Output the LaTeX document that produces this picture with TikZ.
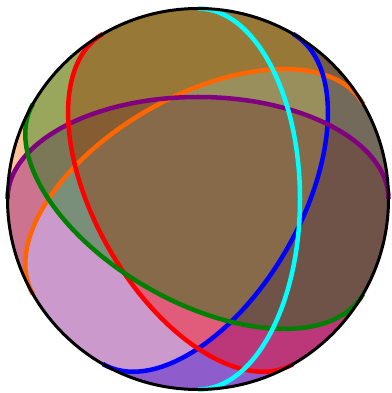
\documentclass[tikz,border=0pt]{standalone}
\usetikzlibrary{calc}
\definecolor{arcorange}{RGB}{255,102,0}
\definecolor{arcpurple}{RGB}{128,0,128}
\definecolor{arcgreen}{RGB}{0,128,0}
\definecolor{arccyan}{RGB}{0,255,255}
\begin{document}
\begin{tikzpicture}[
    bigarc/.style={line width=0.09cm},
    half/.style={fill opacity=0.4}]
                \def\R{3.81}
                \def\b{2.04}
                \useasboundingbox (-3.96,-3.88) rectangle (3.86,3.98);
                \coordinate (O) at (0,0);

                % orange hemisphere, outer side
                \begin{scope}[rotate=30]
                    \fill[half, arcorange] (\R,0) arc[start angle=0, end angle=180, x radius=\R, y radius=\b]
                                                  arc[start angle=180, end angle=0, radius=\R] -- cycle;
                \end{scope}

                % blue hemisphere, outer side
                \begin{scope}[rotate=-120]
                    \fill[half, blue] (\R,0) arc[start angle=0, end angle=180, x radius=\R, y radius=\b]
                                             arc[start angle=180, end angle=0, radius=\R] -- cycle;
                \end{scope}

                % purple hemisphere, inner side
                \begin{scope}[rotate=0]
                    \fill[half, arcpurple] (\R,0) arc[start angle=0, end angle=180, x radius=\R, y radius=\b]
                                                  arc[start angle=180, end angle=360, radius=\R] -- cycle;
                \end{scope}

                % red hemisphere, inner side
                \begin{scope}[rotate=120]
                    \fill[half, red] (\R,0) arc[start angle=0, end angle=180, x radius=\R, y radius=\b]
                                            arc[start angle=180, end angle=360, radius=\R] -- cycle;
                \end{scope}

                % green hemisphere, inner side
                \begin{scope}[rotate=150]
                    \fill[half, arcgreen] (\R,0) arc[start angle=0, end angle=180, x radius=\R, y radius=\b]
                                                 arc[start angle=180, end angle=360, radius=\R] -- cycle;
                \end{scope}

                % the great circles
                \draw[bigarc, arcorange, rotate=30] (\R,0) arc[start angle=0, end angle=180, x radius=\R, y radius=\b];
                \draw[bigarc, blue, rotate=-120] (\R,0) arc[start angle=0, end angle=180, x radius=\R, y radius=\b];
                \draw[bigarc, arcpurple] (\R,0) arc[start angle=0, end angle=180, x radius=\R, y radius=\b];
                \draw[bigarc, red, rotate=120] (\R,0) arc[start angle=0, end angle=180, x radius=\R, y radius=\b];
                \draw[bigarc, arcgreen, rotate=150] (\R,0) arc[start angle=0, end angle=180, x radius=\R, y radius=\b];
                \draw[bigarc, arccyan, rotate=-90] (\R,0) arc[start angle=0, end angle=180, x radius=\R, y radius=\b];

                % the sphere
                \draw[line width=0.06cm] (O) circle (\R);
\end{tikzpicture}
\end{document}
